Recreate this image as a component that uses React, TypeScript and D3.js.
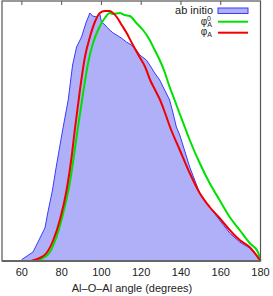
import React, { useEffect, useRef } from "react";
import * as d3 from "d3";

// angle (degrees) and normalised distribution values
const abInitioAngle = [50, 59.5, 60, 65.6, 71.6, 73, 75.4, 77, 79, 80.5, 83.3, 85.5, 87.5, 90, 92.2, 94.2, 95.5, 97.8, 99.2, 100, 101.9, 102.6, 104.2, 105.9, 107.6, 110, 112.6, 115.1, 117.6, 119.3, 122.6, 124.3, 126.8, 129.3, 131.8, 134.3, 136, 137.7, 139.4, 144.4, 149.4, 154.4, 159.4, 164.5, 169.5, 174.5, 178.7, 180];
const abInitioValue = [0, 0, 0.6, 3.6, 13.2, 19.2, 28.4, 36.4, 45.6, 52.4, 64.4, 78.4, 85.6, 89.6, 95.2, 99.2, 98, 97.6, 98.8, 95.6, 94.4, 93.6, 92.4, 91.2, 90.4, 89.2, 87.6, 86.4, 84.4, 82.4, 80.4, 78.4, 75.2, 72.4, 68.4, 64.4, 59.2, 53.6, 50.4, 37.6, 27.2, 21.6, 16.4, 11.2, 7.6, 5.2, 1.6, 0];

const phiA0Angle = [50, 66, 70.7, 74.1, 77.4, 80.8, 84.1, 86.6, 88, 90.8, 93.3, 95.8, 98.3, 101.7, 104.2, 105.9, 109.2, 111.7, 114.3, 117.6, 120.9, 124.3, 126.8, 129.3, 131.8, 134.3, 136.8, 139.4, 141.9, 144.4, 149.4, 154.4, 159.4, 164.5, 169.5, 174.5, 178.7, 180];
const phiA0Value = [0, 0, 1.2, 3.6, 9.6, 19.2, 31.2, 44.4, 52.4, 67.2, 79.2, 87.2, 92.4, 97.2, 99.2, 98.8, 99.2, 98.4, 98, 95.2, 92.4, 88.4, 84.4, 80.4, 75.6, 69.6, 64.4, 58.8, 53.6, 48.4, 39.2, 31.2, 24.4, 17.6, 12.4, 7.2, 3.6, 0];

const phiAAngle = [50, 64, 66, 69, 72.4, 75.8, 79.1, 82.5, 85, 86.6, 89.2, 91.7, 94.2, 96.7, 99.2, 101.7, 104, 105.2, 107.7, 110.2, 112.7, 115.3, 118.6, 122, 124.5, 127, 129.5, 132, 134.5, 139.4, 144.4, 149.4, 154.4, 159.4, 164.5, 169.5, 174.5, 180];
const phiAValue = [0, 0, 0.4, 1.2, 3.2, 8.4, 16.4, 28.4, 41.6, 52.4, 68.4, 81.6, 89.6, 95.6, 99.2, 100, 100, 99.6, 97.6, 94.4, 91.2, 87.2, 82.4, 77.6, 72.4, 68.4, 64.4, 59.2, 53.6, 44.4, 35.2, 27.2, 21.6, 17.2, 12.4, 8.4, 5.6, 0];

const xTicks = [60, 80, 100, 120, 140, 160, 180];

const font = "'Liberation Sans', Arial, sans-serif";

const App: React.FC = () => {
  const svgRef = useRef<SVGSVGElement | null>(null);

  useEffect(() => {
    if (!svgRef.current) return;
    const width = 273;
    const height = 296;
    const left = 2, right = 260.5, top = 1, bottom = 261;

    const svg = d3.select(svgRef.current);
    svg.selectAll("*").remove();
    svg.attr("width", width).attr("height", height);

    const x = d3.scaleLinear().domain([50, 180]).range([left, right]);
    const y = d3.scaleLinear().domain([0, 104]).range([bottom, top]);

    const pts = (a: number[], v: number[]) => a.map((d, i) => [d, v[i]] as [number, number]);

    // ab initio filled histogram
    const area = d3.area<[number, number]>()
      .x((d) => x(d[0]))
      .y0(y(0))
      .y1((d) => y(d[1]));
    const line = d3.line<[number, number]>()
      .x((d) => x(d[0]))
      .y((d) => y(d[1]));
    const smooth = d3.line<[number, number]>()
      .x((d) => x(d[0]))
      .y((d) => y(d[1]))
      .curve(d3.curveMonotoneX);

    const blue = pts(abInitioAngle, abInitioValue);
    svg.append("path").attr("d", area(blue)).attr("fill", "#b0b0f8");
    svg.append("path").attr("d", line(blue)).attr("fill", "none")
      .attr("stroke", "#3a3aff").attr("stroke-width", 1);

    svg.append("path").attr("d", smooth(pts(phiA0Angle, phiA0Value))).attr("fill", "none")
      .attr("stroke", "#00e000").attr("stroke-width", 2);
    svg.append("path").attr("d", smooth(pts(phiAAngle, phiAValue))).attr("fill", "none")
      .attr("stroke", "#f00000").attr("stroke-width", 2);

    // frame
    svg.append("rect")
      .attr("x", left).attr("y", top)
      .attr("width", right - left).attr("height", bottom - top)
      .attr("fill", "none").attr("stroke", "#555").attr("stroke-width", 1.2);
    svg.append("line")
      .attr("x1", left).attr("x2", right).attr("y1", bottom).attr("y2", bottom)
      .attr("stroke", "#666").attr("stroke-width", 2);

    // top mirrored ticks
    svg.append("g").selectAll("line").data(xTicks.slice(0, -1)).enter().append("line")
      .attr("x1", (d) => x(d)).attr("x2", (d) => x(d))
      .attr("y1", top).attr("y2", top + 4)
      .attr("stroke", "#555").attr("stroke-width", 1);

    // tick labels
    svg.append("g").selectAll("text").data(xTicks).enter().append("text")
      .attr("x", (d) => x(d)).attr("y", 276)
      .attr("text-anchor", "middle")
      .attr("font-family", font).attr("font-size", 11).attr("fill", "#222")
      .text((d) => d);

    svg.append("text")
      .attr("x", 132).attr("y", 292)
      .attr("text-anchor", "middle")
      .attr("font-family", font).attr("font-size", 11).attr("fill", "#222")
      .text("Al–O–Al angle (degrees)");

    // legend
    const lg = svg.append("g").attr("font-family", font).attr("fill", "#222");
    lg.append("text").attr("x", 213).attr("y", 14).attr("text-anchor", "end")
      .attr("font-size", 11).text("ab initio");
    lg.append("rect").attr("x", 218).attr("y", 8).attr("width", 30).attr("height", 5.5)
      .attr("fill", "#b0b0f8").attr("stroke", "#3a3aff").attr("stroke-width", 1);

    const phi0 = lg.append("text").attr("x", 212).attr("y", 25).attr("text-anchor", "end")
      .attr("font-size", 10);
    phi0.append("tspan").text("φ");
    phi0.append("tspan").attr("font-size", 7).attr("dy", 2).text("A");
    phi0.append("tspan").attr("font-size", 7).attr("dx", -5).attr("dy", -6).text("0");
    lg.append("line").attr("x1", 218).attr("x2", 248).attr("y1", 21.7).attr("y2", 21.7)
      .attr("stroke", "#00e000").attr("stroke-width", 2);

    const phi = lg.append("text").attr("x", 212).attr("y", 35).attr("text-anchor", "end")
      .attr("font-size", 10);
    phi.append("tspan").text("φ");
    phi.append("tspan").attr("font-size", 7).attr("dy", 1.5).text("A");
    lg.append("line").attr("x1", 218).attr("x2", 248).attr("y1", 32.7).attr("y2", 32.7)
      .attr("stroke", "#f00000").attr("stroke-width", 2);
  }, []);

  return <svg ref={svgRef} style={{ position: "absolute", left: 0, top: 0, display: "block" }}></svg>;
};

export default App;
